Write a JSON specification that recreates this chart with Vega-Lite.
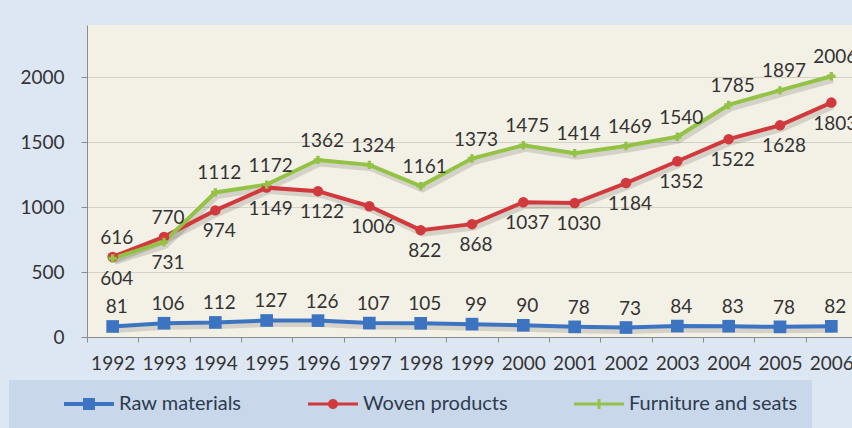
{
  "$schema": "https://vega.github.io/schema/vega-lite/v6.json",
  "width": 765,
  "height": 312,
  "autosize": "none",
  "padding": {"left": 87, "top": 25, "right": 0, "bottom": 91},
  "background": "#dde7f3",
  "config": {
    "view": {"fill": "#f3f1e6", "stroke": null},
    "font": "Lato"
  },
  "data": {
    "values": [
      {"year": "1992", "series": "Raw materials", "value": 81, "pos": "above"},
      {"year": "1993", "series": "Raw materials", "value": 106, "pos": "above"},
      {"year": "1994", "series": "Raw materials", "value": 112, "pos": "above"},
      {"year": "1995", "series": "Raw materials", "value": 127, "pos": "above"},
      {"year": "1996", "series": "Raw materials", "value": 126, "pos": "above"},
      {"year": "1997", "series": "Raw materials", "value": 107, "pos": "above"},
      {"year": "1998", "series": "Raw materials", "value": 105, "pos": "above"},
      {"year": "1999", "series": "Raw materials", "value": 99, "pos": "above"},
      {"year": "2000", "series": "Raw materials", "value": 90, "pos": "above"},
      {"year": "2001", "series": "Raw materials", "value": 78, "pos": "above"},
      {"year": "2002", "series": "Raw materials", "value": 73, "pos": "above"},
      {"year": "2003", "series": "Raw materials", "value": 84, "pos": "above"},
      {"year": "2004", "series": "Raw materials", "value": 83, "pos": "above"},
      {"year": "2005", "series": "Raw materials", "value": 78, "pos": "above"},
      {"year": "2006", "series": "Raw materials", "value": 82, "pos": "above"},
      {"year": "1992", "series": "Woven products", "value": 616, "pos": "above"},
      {"year": "1993", "series": "Woven products", "value": 770, "pos": "above"},
      {"year": "1994", "series": "Woven products", "value": 974, "pos": "below"},
      {"year": "1995", "series": "Woven products", "value": 1149, "pos": "below"},
      {"year": "1996", "series": "Woven products", "value": 1122, "pos": "below"},
      {"year": "1997", "series": "Woven products", "value": 1006, "pos": "below"},
      {"year": "1998", "series": "Woven products", "value": 822, "pos": "below"},
      {"year": "1999", "series": "Woven products", "value": 868, "pos": "below"},
      {"year": "2000", "series": "Woven products", "value": 1037, "pos": "below"},
      {"year": "2001", "series": "Woven products", "value": 1030, "pos": "below"},
      {"year": "2002", "series": "Woven products", "value": 1184, "pos": "below"},
      {"year": "2003", "series": "Woven products", "value": 1352, "pos": "below"},
      {"year": "2004", "series": "Woven products", "value": 1522, "pos": "below"},
      {"year": "2005", "series": "Woven products", "value": 1628, "pos": "below"},
      {"year": "2006", "series": "Woven products", "value": 1803, "pos": "below"},
      {"year": "1992", "series": "Furniture and seats", "value": 604, "pos": "below"},
      {"year": "1993", "series": "Furniture and seats", "value": 731, "pos": "below"},
      {"year": "1994", "series": "Furniture and seats", "value": 1112, "pos": "above"},
      {"year": "1995", "series": "Furniture and seats", "value": 1172, "pos": "above"},
      {"year": "1996", "series": "Furniture and seats", "value": 1362, "pos": "above"},
      {"year": "1997", "series": "Furniture and seats", "value": 1324, "pos": "above"},
      {"year": "1998", "series": "Furniture and seats", "value": 1161, "pos": "above"},
      {"year": "1999", "series": "Furniture and seats", "value": 1373, "pos": "above"},
      {"year": "2000", "series": "Furniture and seats", "value": 1475, "pos": "above"},
      {"year": "2001", "series": "Furniture and seats", "value": 1414, "pos": "above"},
      {"year": "2002", "series": "Furniture and seats", "value": 1469, "pos": "above"},
      {"year": "2003", "series": "Furniture and seats", "value": 1540, "pos": "above"},
      {"year": "2004", "series": "Furniture and seats", "value": 1785, "pos": "above"},
      {"year": "2005", "series": "Furniture and seats", "value": 1897, "pos": "above"},
      {"year": "2006", "series": "Furniture and seats", "value": 2006, "pos": "above"}
    ]
  },
  "encoding": {
    "x": {
      "field": "year",
      "type": "ordinal",
      "scale": {"range": [0, 770], "paddingInner": 0, "paddingOuter": 0},
      "axis": {
        "title": null,
        "labelAngle": 0,
        "tickBand": "extent",
        "tickSize": 5,
        "tickColor": "#8c8c8c",
        "domainColor": "#8c8c8c",
        "labelFontSize": 19,
        "labelColor": "#333333",
        "labelPadding": 12,
        "grid": false
      }
    },
    "y": {
      "field": "value",
      "type": "quantitative",
      "scale": {"domain": [0, 2400], "nice": false},
      "axis": {
        "title": null,
        "values": [0, 500, 1000, 1500, 2000],
        "format": "d",
        "grid": true,
        "gridColor": "#d4d2c4",
        "domainColor": "#8c8c8c",
        "tickColor": "#8c8c8c",
        "tickSize": 6,
        "labelPadding": 17,
        "labelFontSize": 19,
        "labelColor": "#333333"
      }
    }
  },
  "layer": [
    {
      "mark": {"type": "line", "strokeWidth": 5, "color": "#000000", "opacity": 0.13, "xOffset": 2, "yOffset": 4},
      "encoding": {"detail": {"field": "series", "type": "nominal"}}
    },
    {
      "mark": {"type": "line", "strokeWidth": 4},
      "encoding": {
        "color": {
          "field": "series",
          "type": "nominal",
          "sort": ["Raw materials", "Woven products", "Furniture and seats"],
          "scale": {
            "domain": ["Raw materials", "Woven products", "Furniture and seats"],
            "range": ["#3d74c2", "#d1393d", "#93c246"]
          },
          "legend": {
            "title": null,
            "orient": "none",
            "direction": "horizontal",
            "legendX": -78,
            "legendY": 355,
            "padding": 14,
            "fillColor": "#c8d7ea",
            "strokeColor": null,
            "symbolSize": 100,
            "symbolOffset": 56,
            "labelOffset": 20,
            "columnPadding": 25,
            "labelFontSize": 20,
            "labelColor": "#2d3b4e",
            "labelLimit": 300,
            "encode": {
              "symbols": {
                "update": {
                  "shape": {"signal": "datum.value === 'Raw materials' ? 'M-5,-0.4H5V0.4H-5Z M-1.2,-1.2H1.2V1.2H-1.2Z' : datum.value === 'Woven products' ? 'M-5,-0.3H5V0.3H-5Z M-1,0A1,1,0,1,1,1,0A1,1,0,1,1,-1,0Z' : 'M-5,-0.3H5V0.3H-5Z M-0.3,-1H0.3V-0.3H1V0.3H0.3V1H-0.3V0.3H-1V-0.3H-0.3Z'"},
                  "fill": {"signal": "scale('color', datum.value)"},
                  "fillOpacity": {"value": 1},
                  "strokeWidth": {"value": 0}
                }
              }
            }
          }
        }
      }
    },
    {
      "transform": [{"filter": "datum.series === 'Raw materials'"}],
      "mark": {"type": "point", "shape": "square", "filled": true, "opacity": 1, "size": 160, "color": "#3d74c2"},
      "encoding": {}
    },
    {
      "transform": [{"filter": "datum.series === 'Woven products'"}],
      "mark": {"type": "point", "shape": "circle", "filled": true, "opacity": 1, "size": 110, "color": "#d1393d"},
      "encoding": {}
    },
    {
      "transform": [{"filter": "datum.series === 'Furniture and seats'"}],
      "mark": {"type": "point", "shape": "cross", "filled": true, "opacity": 1, "size": 70, "color": "#93c246"},
      "encoding": {}
    },
    {
      "transform": [{"filter": "datum.pos === 'above'"}],
      "mark": {"type": "text", "dy": -19, "dx": 4, "fontSize": 19, "color": "#333333"},
      "encoding": {"text": {"field": "value", "type": "quantitative", "format": "d"}}
    },
    {
      "transform": [{"filter": "datum.pos === 'below'"}],
      "mark": {"type": "text", "dy": 21, "dx": 4, "fontSize": 19, "color": "#333333"},
      "encoding": {"text": {"field": "value", "type": "quantitative", "format": "d"}}
    }
  ]
}
